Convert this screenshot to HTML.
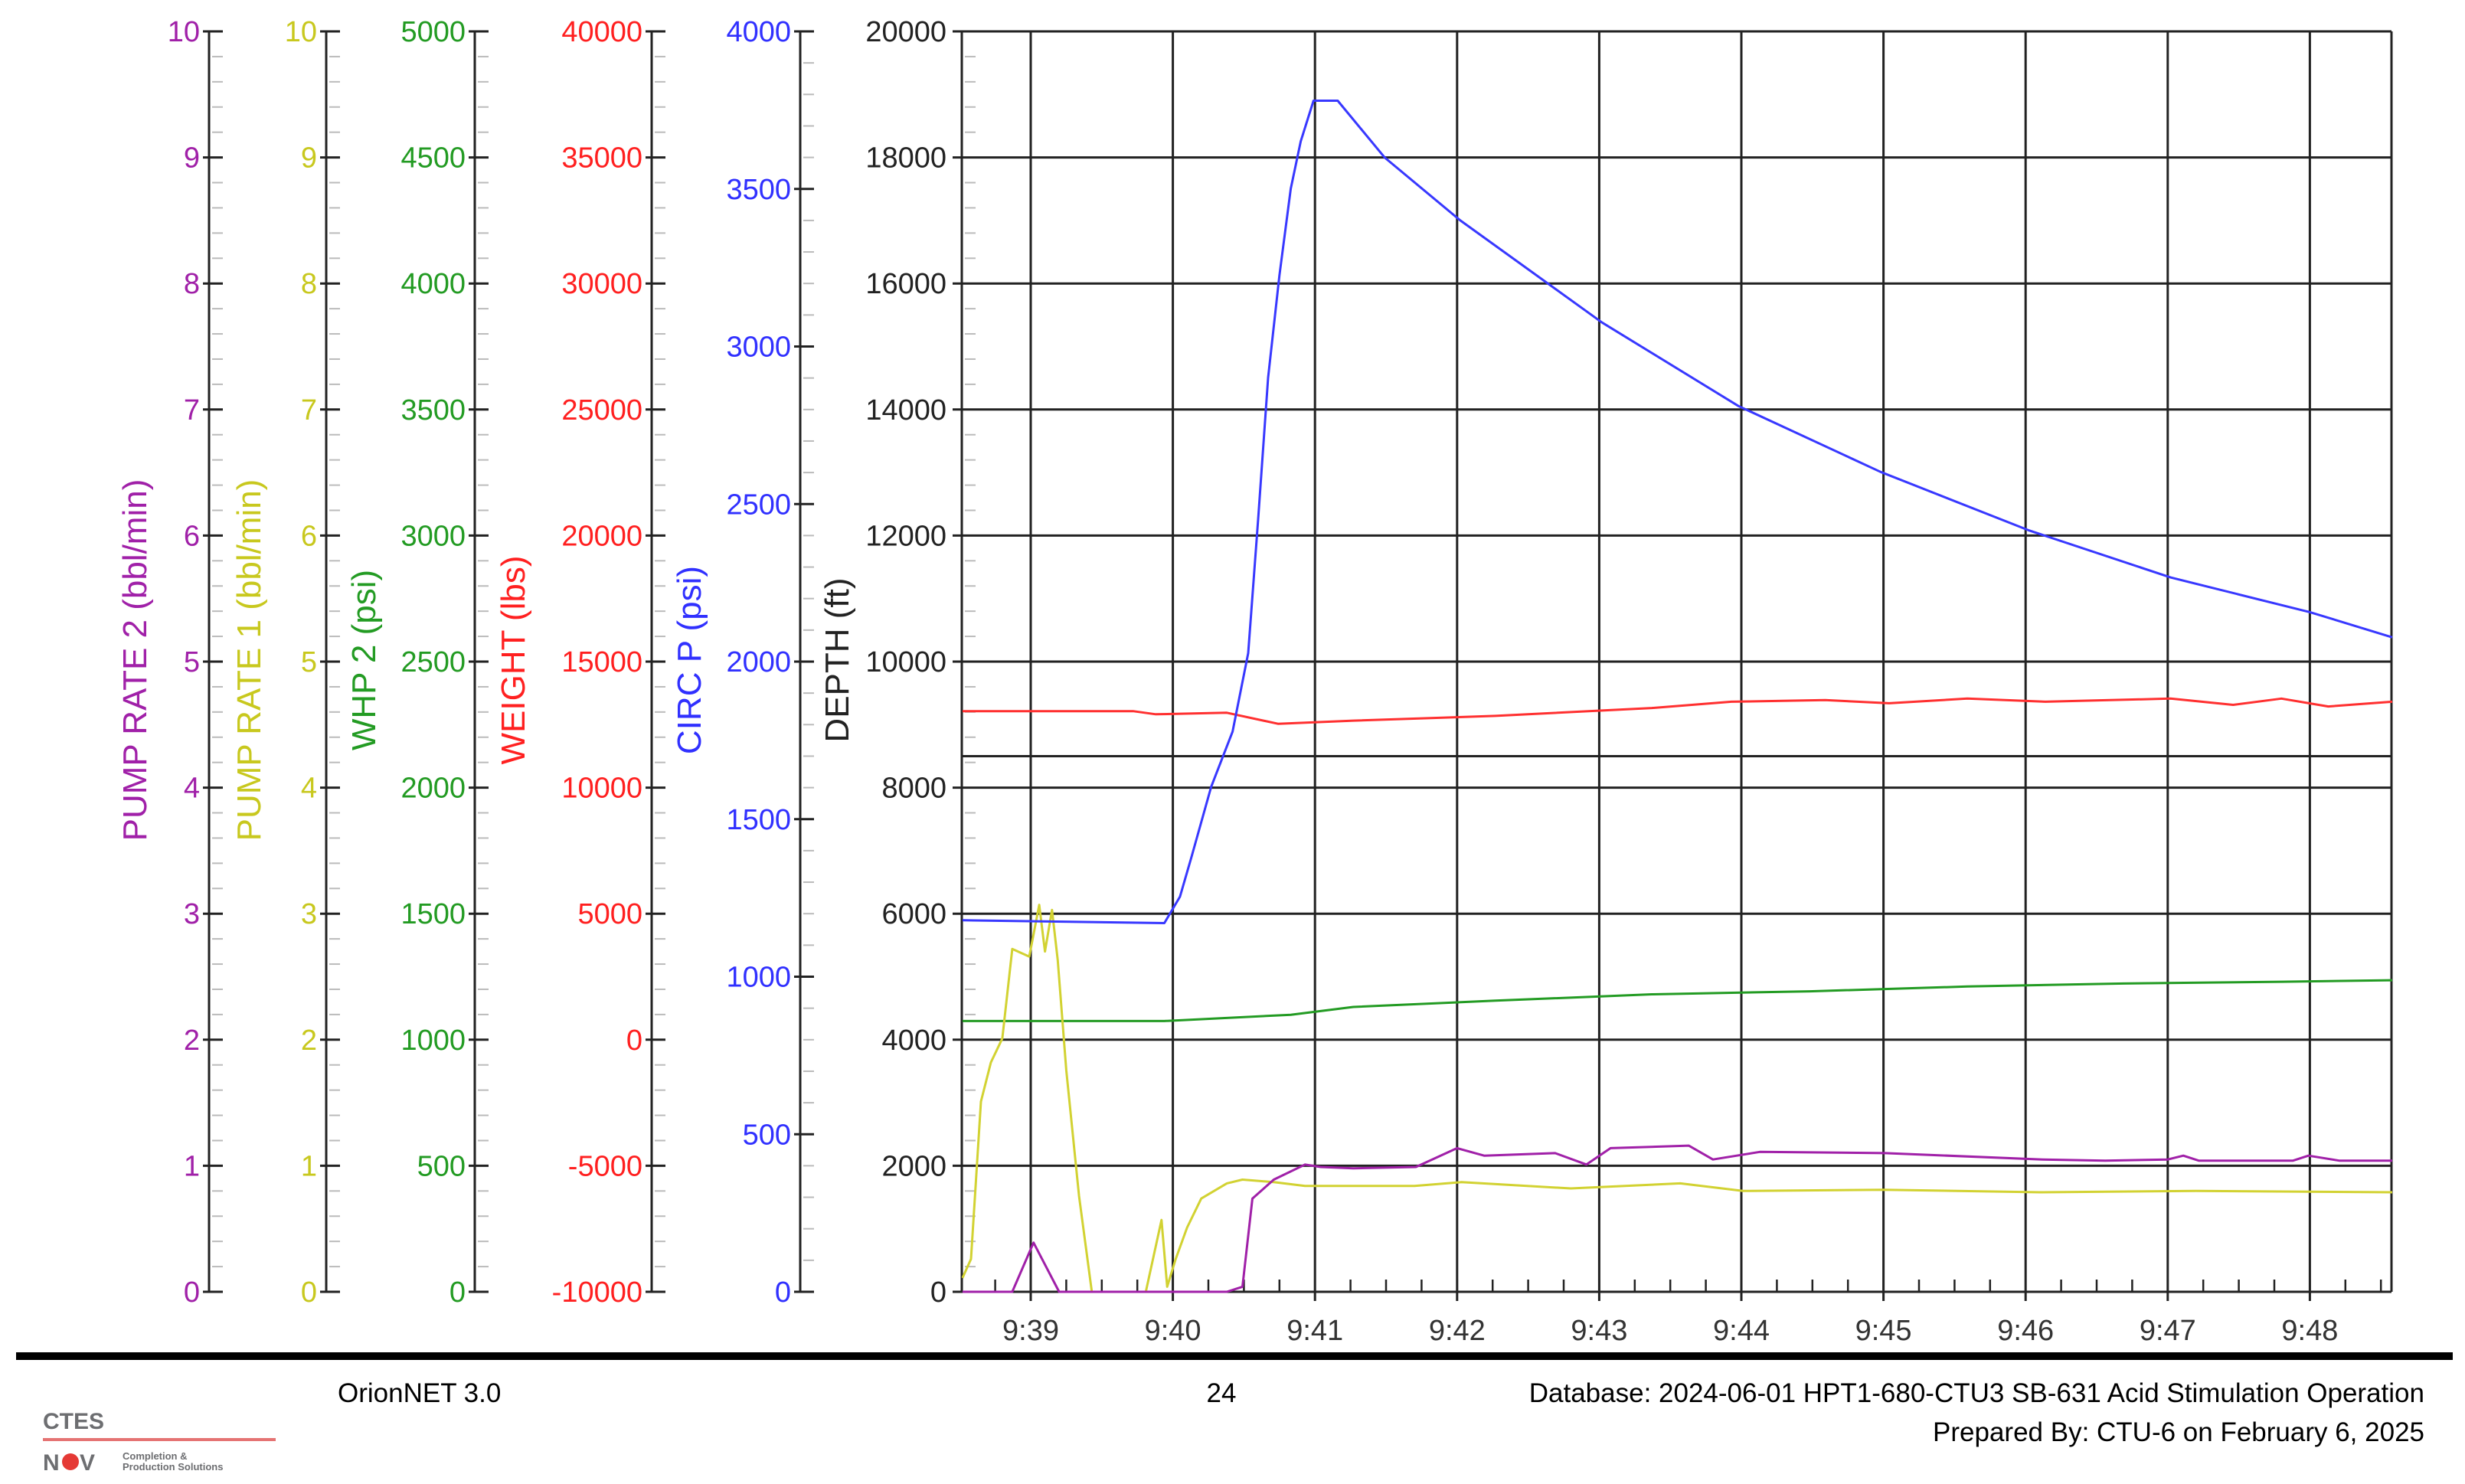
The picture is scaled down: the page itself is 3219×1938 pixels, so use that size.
<!DOCTYPE html>
<html><head><meta charset="utf-8"><style>
html,body{margin:0;padding:0;background:#fff;}
svg{display:block;font-family:"Liberation Sans",sans-serif;}
</style></head><body>
<svg id="c" width="3219" height="1938" viewBox="0 0 3219 1938" xmlns="http://www.w3.org/2000/svg">
<g id="grid"></g><g id="axes"></g><g id="series"></g>
<g>
<rect x="21" y="1766" width="3182" height="10" fill="#000"/>
<text x="441" y="1831" font-size="35" fill="#000">OrionNET 3.0</text>
<text x="1595" y="1831" font-size="35" fill="#000" text-anchor="middle">24</text>
<text x="3166" y="1831" font-size="35" fill="#000" text-anchor="end">Database: 2024-06-01 HPT1-680-CTU3 SB-631 Acid Stimulation Operation</text>
<text x="3166" y="1882" font-size="35" fill="#000" text-anchor="end">Prepared By: CTU-6 on February 6, 2025</text>
<g>
<text x="56" y="1866" font-size="30" font-weight="bold" fill="#6d6e71">CTES</text>
<rect x="56" y="1878" width="304" height="4" fill="#e57373"/>
<text x="56" y="1920" font-size="30" font-weight="bold" fill="#6d6e71">N</text>
<circle cx="92" cy="1909" r="11" fill="#e53935"/>
<text x="104" y="1920" font-size="30" font-weight="bold" fill="#6d6e71">V</text>
<text x="160" y="1906" font-size="13" font-weight="bold" fill="#6d6e71">Completion &amp;</text>
<text x="160" y="1920" font-size="13" font-weight="bold" fill="#6d6e71">Production Solutions</text>
</g>
</g>
</svg>
<script>
// ---- data (time in minutes after 9:38) ----
const timeTicks=["9:39","9:40","9:41","9:42","9:43","9:44","9:45","9:46","9:47","9:48"];
const circT=[0.52,1.94,2.05,2.13,2.27,2.42,2.53,2.60,2.67,2.75,2.83,2.90,2.99,3.16,3.49,4.02,5.02,5.98,6.98,8.02,9.02,10.0,10.58];
const circV=[1179,1170,1254,1378,1603,1778,2027,2452,2901,3226,3501,3651,3780,3780,3600,3401,3076,2811,2602,2417,2267,2157,2077];
const wtT=[0.52,1.72,1.88,2.38,2.74,3.27,4.27,5.37,5.93,6.59,7.04,7.59,8.14,9.02,9.46,9.80,10.13,10.58];
const wtV=[13034,13034,12909,12971,12534,12659,12846,13159,13409,13471,13346,13534,13409,13534,13284,13534,13221,13409];
const whpT=[0.52,1.94,2.83,3.27,4.27,5.37,6.48,7.59,8.69,9.80,10.58];
const whpV=[1074,1074,1099,1130,1155,1180,1192,1211,1223,1230,1236];
const pr1T=[0.52,0.58,0.65,0.72,0.80,0.87,0.99,1.06,1.10,1.15,1.19,1.25,1.34,1.43,1.47,1.81,1.92,1.96,2.02,2.10,2.20,2.38,2.49,2.71,2.93,3.70,4.03,4.80,5.57,6.01,7.0,8.1,9.2,10.58];
const pr1V=[0.11,0.26,1.51,1.82,2.01,2.72,2.66,3.07,2.70,3.03,2.63,1.76,0.76,0,0,0,0.57,0.04,0.26,0.51,0.74,0.86,0.89,0.87,0.84,0.84,0.87,0.82,0.86,0.80,0.81,0.79,0.80,0.79];
const pr2T=[0.52,0.87,1.02,1.20,2.38,2.49,2.56,2.71,2.93,3.04,3.27,3.71,4.00,4.19,4.69,4.91,5.08,5.63,5.80,6.13,7.01,8.12,8.56,9.0,9.11,9.22,9.88,9.99,10.21,10.58];
const pr2V=[0,0,0.39,0,0,0.04,0.74,0.89,1.01,0.99,0.98,0.99,1.14,1.08,1.10,1.01,1.14,1.16,1.05,1.11,1.10,1.05,1.04,1.05,1.08,1.04,1.04,1.08,1.04,1.04];
const depthTicks=[0,2000,4000,6000,8000,10000,12000,14000,16000,18000,20000];

const NS="http://www.w3.org/2000/svg";
const PL=1256,PR=3123,PT=41,PB=1687;
const T0=1.0,X0=1346,PXM=185.6;
function xs(t){return X0+(t-T0)*PXM;}
function ys(v,min,max){return PB-(v-min)/(max-min)*(PB-PT);}
function mk(tag,attrs,parent){const e=document.createElementNS(NS,tag);for(const k in attrs)e.setAttribute(k,attrs[k]);parent.appendChild(e);return e;}
const grid=document.getElementById('grid'),axes=document.getElementById('axes'),ser=document.getElementById('series');

depthTicks.forEach(v=>{const y=ys(v,0,20000);
 const l=mk('line',{x1:PL-12,x2:PR,y1:y,y2:y,stroke:'#222','stroke-width':3},grid);
 
 
 const t=mk('text',{x:PL-20,y:y+13,'font-size':38,'text-anchor':'end',fill:'#222'},axes);
 t.textContent=v;
 
 
});
{const y=ys(8500,0,20000);const l=mk('line',{x1:PL,x2:PR,y1:y,y2:y,stroke:'#222','stroke-width':3},grid);
 
 }
timeTicks.forEach((s,i)=>{const x=xs(T0+i);
 const l=mk('line',{x1:x,x2:x,y1:PT,y2:PB+12,stroke:'#222','stroke-width':3},grid);
 
 
 const t=mk('text',{x:x,y:1750,'font-size':38,'text-anchor':'middle',fill:'#333'},axes);
 t.textContent=s;
 
 
});
for(let t=0.5;t<=10.6;t+=0.25){const x=xs(t);if(x<PL||x>PR)continue;
 mk('line',{x1:x,x2:x,y1:PB-16,y2:PB,stroke:'#222','stroke-width':2.5},grid);}
mk('line',{x1:PL,x2:PL,y1:PT,y2:PB,stroke:'#222','stroke-width':3},grid);
mk('line',{x1:PR,x2:PR,y1:PT,y2:PB,stroke:'#222','stroke-width':3},grid);
for(let v=400;v<20000;v+=400){if(v%2000==0)continue;const y=ys(v,0,20000);mk('line',{x1:PL+4,x2:PL+18,y1:y,y2:y,stroke:'#bbb','stroke-width':2},grid);}

const axDefs=[
 {x:273,min:0,max:10,step:1,minor:5,color:'#a020a8',title:'PUMP RATE 2  (bbl/min)',tx:191,name:'pump-rate-2-axis'},
 {x:426,min:0,max:10,step:1,minor:5,color:'#c8c81e',title:'PUMP RATE 1  (bbl/min)',tx:340,name:'pump-rate-1-axis'},
 {x:620,min:0,max:5000,step:500,minor:5,color:'#239b23',title:'WHP 2  (psi)',tx:490,name:'whp2-axis'},
 {x:851,min:-10000,max:40000,step:5000,minor:5,color:'#ff2020',title:'WEIGHT  (lbs)',tx:685,name:'weight-axis'},
 {x:1045,min:0,max:4000,step:500,minor:5,color:'#3030ff',title:'CIRC P  (psi)',tx:915,name:'circ-p-axis'},
];
axDefs.forEach(a=>{
 const g=mk('g',{},axes);
 
 
 mk('line',{x1:a.x,x2:a.x,y1:PT,y2:PB,stroke:'#222','stroke-width':3},g);
 const n=(a.max-a.min)/a.step;
 for(let i=0;i<=n;i++){const v=a.min+i*a.step;const y=ys(v,a.min,a.max);
  mk('line',{x1:a.x-8,x2:a.x+18,y1:y,y2:y,stroke:'#222','stroke-width':3},g);
  const t=mk('text',{x:a.x-12,y:y+13,'font-size':38,'text-anchor':'end',fill:a.color},g);
  t.textContent=v;
  if(i<n)for(let j=1;j<a.minor;j++){const yy=ys(v+a.step*j/a.minor,a.min,a.max);mk('line',{x1:a.x+4,x2:a.x+18,y1:yy,y2:yy,stroke:'#bbb','stroke-width':2},g);}
 }
 const tt=mk('text',{x:a.tx,y:862,'font-size':44,'text-anchor':'middle',fill:a.color,transform:`rotate(-90 ${a.tx} 862)`},g);
 tt.textContent=a.title;
 
 
});
{const tt=mk('text',{x:1108,y:862,'font-size':44,'text-anchor':'middle',fill:'#222',transform:'rotate(-90 1108 862)'},axes);
 tt.textContent='DEPTH  (ft)';
 
 }

function series(T,V,min,max,color,name){
 const d=T.map((t,i)=>(i?'L':'M')+xs(t).toFixed(1)+','+ys(V[i],min,max).toFixed(1)).join(' ');
 const p=mk('path',{d:d,fill:'none',stroke:color,'stroke-width':3,'stroke-linejoin':'round'},ser);
 
 
}
series(whpT,whpV,0,5000,'#239b23','whp2-line');
series(wtT,wtV,-10000,40000,'#ff3030','weight-line');
series(pr1T,pr1V,0,10,'#d2d232','pump-rate-1-line');
series(pr2T,pr2V,0,10,'#a020a8','pump-rate-2-line');
series(circT,circV,0,4000,'#3838ff','circ-p-line');
</script>
</body></html>
